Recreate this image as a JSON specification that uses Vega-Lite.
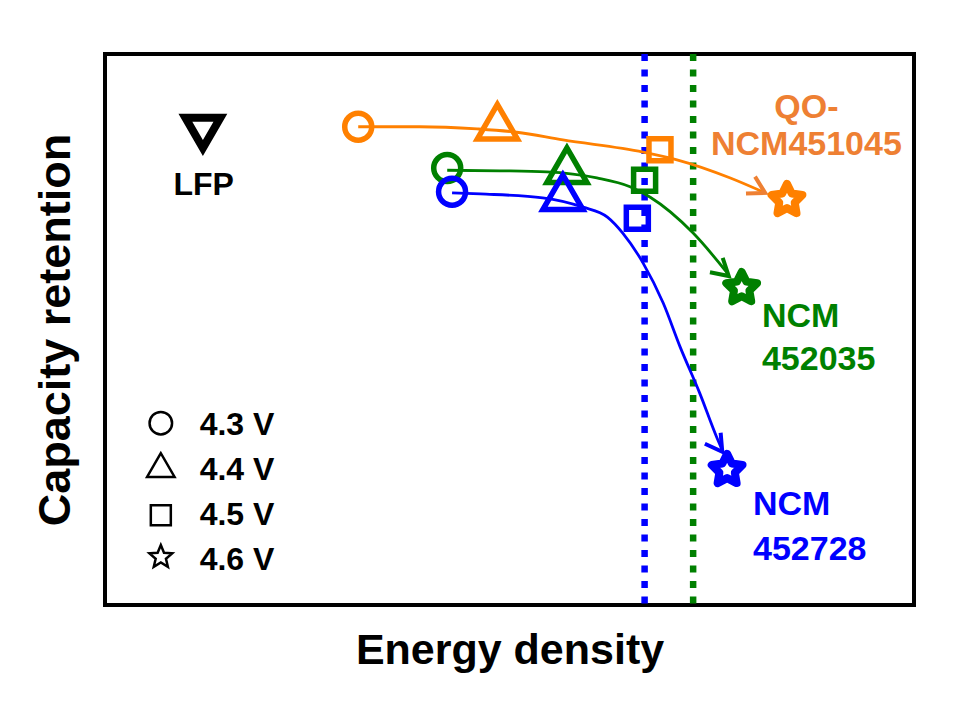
{
  "$schema": "https://vega.github.io/schema/vega-lite/v6.json",
  "width": 809,
  "height": 551,
  "autosize": {"type": "none"},
  "padding": {"left": 105, "top": 54, "right": 52, "bottom": 123},
  "background": "white",
  "config": {
    "view": {"stroke": "black", "strokeWidth": 4},
    "font": "Liberation Sans"
  },
  "datasets": {
    "points": [
      {"series": "QO-NCM451045", "voltage": "4.3 V", "x": 31.3, "y": 86.8},
      {"series": "QO-NCM451045", "voltage": "4.4 V", "x": 48.5, "y": 87.7},
      {"series": "QO-NCM451045", "voltage": "4.5 V", "x": 68.6, "y": 82.6},
      {"series": "QO-NCM451045", "voltage": "4.6 V", "x": 84.3, "y": 73.5},
      {"series": "NCM452035", "voltage": "4.3 V", "x": 42.3, "y": 79.3},
      {"series": "NCM452035", "voltage": "4.4 V", "x": 57.1, "y": 79.8},
      {"series": "NCM452035", "voltage": "4.5 V", "x": 66.7, "y": 77.1},
      {"series": "NCM452035", "voltage": "4.6 V", "x": 78.7, "y": 57.5},
      {"series": "NCM452728", "voltage": "4.3 V", "x": 42.9, "y": 75.0},
      {"series": "NCM452728", "voltage": "4.4 V", "x": 56.6, "y": 74.9},
      {"series": "NCM452728", "voltage": "4.5 V", "x": 65.8, "y": 70.2},
      {"series": "NCM452728", "voltage": "4.6 V", "x": 76.9, "y": 24.5}
    ],
    "curves": [
      {"series": "QO-NCM451045", "x": 31.3, "y": 86.8},
      {"series": "QO-NCM451045", "x": 38.9, "y": 86.8},
      {"series": "QO-NCM451045", "x": 46.0, "y": 86.4},
      {"series": "QO-NCM451045", "x": 50.9, "y": 85.8},
      {"series": "QO-NCM451045", "x": 56.6, "y": 84.4},
      {"series": "QO-NCM451045", "x": 66.5, "y": 82.2},
      {"series": "QO-NCM451045", "x": 70.7, "y": 80.8},
      {"series": "QO-NCM451045", "x": 77.3, "y": 77.5},
      {"series": "QO-NCM451045", "x": 81.3, "y": 75.0},
      {"series": "NCM452035", "x": 42.3, "y": 78.9},
      {"series": "NCM452035", "x": 48.8, "y": 78.8},
      {"series": "NCM452035", "x": 54.6, "y": 78.6},
      {"series": "NCM452035", "x": 60.8, "y": 77.5},
      {"series": "NCM452035", "x": 64.9, "y": 75.9},
      {"series": "NCM452035", "x": 67.4, "y": 74.0},
      {"series": "NCM452035", "x": 72.7, "y": 67.5},
      {"series": "NCM452035", "x": 76.9, "y": 60.3},
      {"series": "NCM452728", "x": 42.9, "y": 74.8},
      {"series": "NCM452728", "x": 46.4, "y": 74.6},
      {"series": "NCM452728", "x": 54.1, "y": 73.9},
      {"series": "NCM452728", "x": 59.1, "y": 72.2},
      {"series": "NCM452728", "x": 62.1, "y": 70.4},
      {"series": "NCM452728", "x": 64.0, "y": 67.5},
      {"series": "NCM452728", "x": 66.5, "y": 62.1},
      {"series": "NCM452728", "x": 69.0, "y": 54.8},
      {"series": "NCM452728", "x": 71.1, "y": 46.8},
      {"series": "NCM452728", "x": 73.5, "y": 38.5},
      {"series": "NCM452728", "x": 75.6, "y": 30.5},
      {"series": "NCM452728", "x": 76.3, "y": 28.1}
    ],
    "arrows": [
      {"series": "QO-NCM451045", "x": 81.6, "y": 74.8},
      {"series": "NCM452035", "x": 77.1, "y": 59.7},
      {"series": "NCM452728", "x": 76.3, "y": 27.8}
    ],
    "refs": [
      {"series": "NCM452728", "x": 66.7},
      {"series": "NCM452035", "x": 72.7}
    ],
    "lfp": [
      {"series": "LFP", "x": 12.1, "y": 85.7, "text": "LFP", "tx": 12.2, "ty": 74.4}
    ],
    "legend": [
      {"voltage": "4.3 V", "x": 6.9, "y": 33.0, "tx": 11.7, "ty": 30.9},
      {"voltage": "4.4 V", "x": 6.9, "y": 25.4, "tx": 11.7, "ty": 22.7},
      {"voltage": "4.5 V", "x": 6.9, "y": 16.3, "tx": 11.7, "ty": 14.5},
      {"voltage": "4.6 V", "x": 6.9, "y": 8.7, "tx": 11.7, "ty": 6.4}
    ],
    "labels": [
      {"series": "QO-NCM451045", "text": "QO-", "x": 86.7, "y": 88.4, "align": "center"},
      {"series": "QO-NCM451045", "text": "NCM451045", "x": 86.7, "y": 81.7, "align": "center"},
      {"series": "NCM452035", "text": "NCM", "x": 81.2, "y": 50.5, "align": "left"},
      {"series": "NCM452035", "text": "452035", "x": 81.2, "y": 42.6, "align": "left"},
      {"series": "NCM452728", "text": "NCM", "x": 80.1, "y": 16.3, "align": "left"},
      {"series": "NCM452728", "text": "452728", "x": 80.1, "y": 8.2, "align": "left"}
    ]
  },
  "encoding": {
    "x": {
      "field": "x", "type": "quantitative",
      "scale": {"domain": [0, 100], "nice": false, "zero": false},
      "axis": {
        "title": "Energy density", "labels": false, "ticks": false, "domain": false, "grid": false,
        "titleFont": "Liberation Sans", "titleFontSize": 43, "titleFontWeight": "bold", "titleColor": "black",
        "titlePadding": 24
      }
    },
    "y": {
      "field": "y", "type": "quantitative",
      "scale": {"domain": [0, 100], "nice": false, "zero": false},
      "axis": {
        "title": "Capacity retention", "labels": false, "ticks": false, "domain": false, "grid": false,
        "titleFont": "Liberation Sans", "titleFontSize": 45, "titleFontWeight": "bold", "titleColor": "black",
        "titlePadding": 27
      }
    }
  },
  "layer": [
    {
      "data": {"name": "refs"},
      "mark": {"type": "rule", "strokeDash": [7, 8.5], "strokeWidth": 6.5},
      "encoding": {
        "y": null,
        "color": {"field": "series", "type": "nominal", "legend": null,
          "scale": {"domain": ["QO-NCM451045", "NCM452035", "NCM452728"], "range": ["#FF8000", "#008000", "#0000FF"]}}
      }
    },
    {
      "data": {"name": "curves"},
      "mark": {"type": "line", "interpolate": "monotone", "strokeWidth": 2.8},
      "encoding": {
        "color": {"field": "series", "type": "nominal", "legend": null}
      }
    },
    {
      "data": {"name": "arrows"},
      "mark": {"type": "point", "shape": "M-1,-0.58L0,0L-1,0.58", "filled": false, "strokeWidth": 4, "size": 1100, "strokeJoin": "miter", "opacity": 1},
      "encoding": {
        "stroke": {"field": "series", "type": "nominal", "legend": null,
          "scale": {"domain": ["QO-NCM451045", "NCM452035", "NCM452728"], "range": ["#EE8033", "#008000", "#0000FF"]}},
        "angle": {"field": "series", "type": "nominal", "legend": null,
          "scale": {"domain": ["QO-NCM451045", "NCM452035", "NCM452728"], "range": [28, 55, 62]}}
      }
    },
    {
      "data": {"name": "points"},
      "transform": [{"filter": "datum.voltage == '4.3 V'"}],
      "mark": {"type": "point", "shape": "circle", "size": 729, "filled": false, "strokeWidth": 5.5, "opacity": 1},
      "encoding": {"color": {"field": "series", "type": "nominal", "legend": null}}
    },
    {
      "data": {"name": "points"},
      "transform": [{"filter": "datum.voltage == '4.4 V'"}],
      "mark": {"type": "point", "shape": "triangle-up", "size": 1600, "filled": false, "strokeWidth": 5.5, "opacity": 1},
      "encoding": {"color": {"field": "series", "type": "nominal", "legend": null}}
    },
    {
      "data": {"name": "points"},
      "transform": [{"filter": "datum.voltage == '4.5 V'"}],
      "mark": {"type": "point", "shape": "square", "size": 484, "filled": false, "strokeWidth": 5.5, "opacity": 1},
      "encoding": {"color": {"field": "series", "type": "nominal", "legend": null}}
    },
    {
      "data": {"name": "points"},
      "transform": [{"filter": "datum.voltage == '4.6 V'"}],
      "mark": {"type": "point", "shape": "M0,-1L0.294,-0.405L0.951,-0.309L0.476,0.155L0.588,0.809L0,0.5L-0.588,0.809L-0.476,0.155L-0.951,-0.309L-0.294,-0.405Z", "size": 1050, "filled": false, "strokeWidth": 8, "strokeJoin": "round", "opacity": 1},
      "encoding": {"color": {"field": "series", "type": "nominal", "legend": null}}
    },
    {
      "data": {"name": "lfp"},
      "mark": {"type": "point", "shape": "triangle-down", "filled": false, "strokeWidth": 8, "size": 1225, "color": "black", "opacity": 1}
    },
    {
      "data": {"name": "lfp"},
      "mark": {"type": "text", "font": "Liberation Sans", "fontWeight": "bold", "fontSize": 32, "align": "center", "baseline": "alphabetic", "color": "black"},
      "encoding": {
        "x": {"field": "tx", "type": "quantitative"},
        "y": {"field": "ty", "type": "quantitative"},
        "text": {"field": "text"}
      }
    },
    {
      "data": {"name": "legend"},
      "transform": [{"filter": "datum.voltage == '4.3 V'"}],
      "mark": {"type": "point", "shape": "circle", "size": 506, "filled": false, "strokeWidth": 2.5, "color": "black", "opacity": 1}
    },
    {
      "data": {"name": "legend"},
      "transform": [{"filter": "datum.voltage == '4.4 V'"}],
      "mark": {"type": "point", "shape": "triangle-up", "size": 756, "filled": false, "strokeWidth": 2.5, "color": "black", "opacity": 1}
    },
    {
      "data": {"name": "legend"},
      "transform": [{"filter": "datum.voltage == '4.5 V'"}],
      "mark": {"type": "point", "shape": "square", "size": 400, "filled": false, "strokeWidth": 2.5, "color": "black", "opacity": 1}
    },
    {
      "data": {"name": "legend"},
      "transform": [{"filter": "datum.voltage == '4.6 V'"}],
      "mark": {"type": "point", "shape": "M0,-1L0.265,-0.364L0.951,-0.309L0.428,0.139L0.588,0.809L0,0.45L-0.588,0.809L-0.428,0.139L-0.951,-0.309L-0.265,-0.364Z", "size": 576, "filled": false, "strokeWidth": 2.5, "color": "black", "opacity": 1}
    },
    {
      "data": {"name": "legend"},
      "mark": {"type": "text", "font": "Liberation Sans", "fontWeight": "bold", "fontSize": 32, "align": "left", "baseline": "alphabetic", "color": "black"},
      "encoding": {
        "x": {"field": "tx", "type": "quantitative"},
        "y": {"field": "ty", "type": "quantitative"},
        "text": {"field": "voltage"}
      }
    },
    {
      "data": {"name": "labels"},
      "transform": [{"filter": "datum.align == 'center'"}],
      "mark": {"type": "text", "font": "Liberation Sans", "fontWeight": "bold", "fontSize": 34, "align": "center", "baseline": "alphabetic"},
      "encoding": {
        "text": {"field": "text"},
        "fill": {"field": "series", "type": "nominal", "legend": null,
          "scale": {"domain": ["QO-NCM451045", "NCM452035", "NCM452728"], "range": ["#EE8033", "#008000", "#0000FF"]}}
      }
    },
    {
      "data": {"name": "labels"},
      "transform": [{"filter": "datum.align == 'left'"}],
      "mark": {"type": "text", "font": "Liberation Sans", "fontWeight": "bold", "fontSize": 34, "align": "left", "baseline": "alphabetic"},
      "encoding": {
        "text": {"field": "text"},
        "fill": {"field": "series", "type": "nominal", "legend": null}
      }
    }
  ]
}
